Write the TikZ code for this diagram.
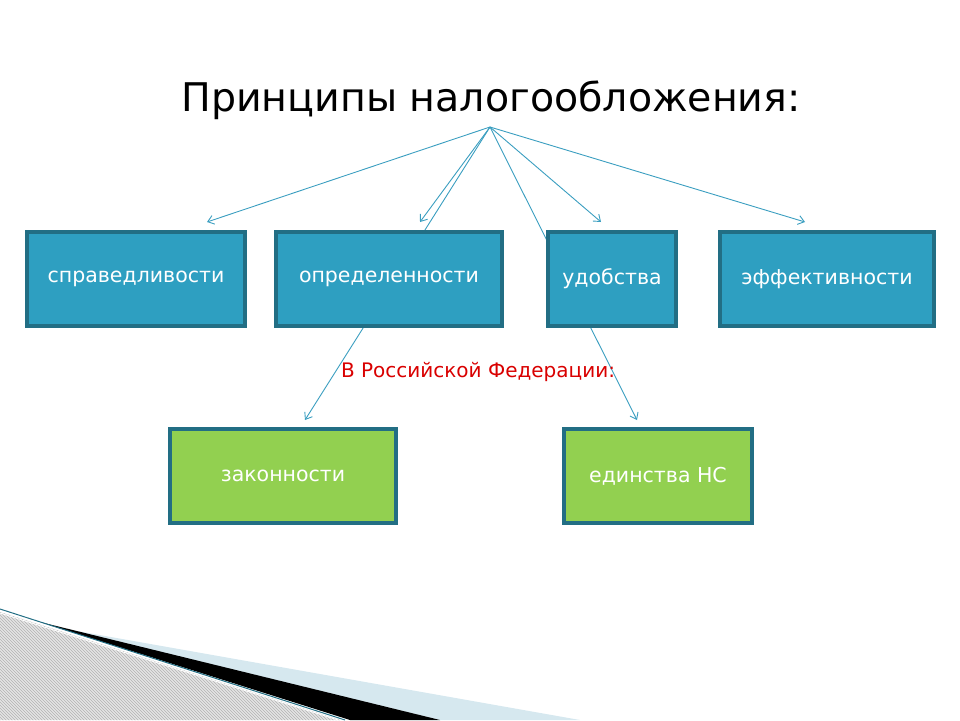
\documentclass[tikz,border=0pt]{standalone}
\usepackage{fontspec}
\setmainfont{DejaVu Sans}
\usetikzlibrary{patterns,arrows.meta}
\definecolor{tealf}{HTML}{2E9FC1}
\definecolor{bord}{HTML}{226E84}
\definecolor{grn}{HTML}{92D050}
\definecolor{arr}{HTML}{3A9EC0}
\definecolor{lb}{HTML}{D6E8EF}
\begin{document}
\begin{tikzpicture}[x=1pt,y=-1pt,
  box/.style={draw=bord,line width=4.5pt,fill=tealf,text=white,font=\fontsize{20.5}{24}\selectfont,inner sep=0},
  gbox/.style={box,fill=grn},
  ar/.style={draw=arr,line width=0.9pt,-{Straight Barb[length=6pt,width=9pt]}}]
\useasboundingbox (0,0) rectangle (960,720);
% decoration
\fill[lb] (60,628) -- (580,720) -- (440,720) -- cycle;
\fill[black] (40,622) -- (440,720) -- (350,720) -- cycle;
\fill[gray!20] (0,612) -- (340,720) -- (0,720) -- cycle;
\fill[pattern=north west lines,pattern color=gray!60] (0,612) -- (340,720) -- (0,720) -- cycle;
\draw[bord,line width=1pt] (0,609) -- (345,720);
\draw[white,line width=0.8pt] (0,613) -- (338,720);
% title
\node (t) at (491,100) {\fontsize{39.5}{46}\selectfont Принципы налогообложения:};
\coordinate (o) at (490,127);
% long arrows behind boxes
\coordinate (e1) at (305,420);
\coordinate (e2) at (637,420);
\draw[ar] (o) -- (e1);
\draw[ar] (o) -- (e2);
% boxes
\node[box,minimum width=218pt,minimum height=94pt] (b1) at (136,279) {справедливости};
\node[box,minimum width=226pt,minimum height=94pt] (b2) at (389,279) {определенности};
\node[box,minimum width=128pt,minimum height=94pt] (b3) at (612,279) {удобства};
\node[box,minimum width=214pt,minimum height=94pt] (b4) at (827,279) {эффективности};
\node[gbox,minimum width=226pt,minimum height=94pt] (g1) at (283,476) {законности};
\node[gbox,minimum width=188pt,minimum height=94pt] (g2) at (658,476) {единства НС};
\draw[ar] (o) -- (207,222);
\draw[ar] (o) -- (420,222);
\draw[ar] (o) -- (601,222);
\draw[ar] (o) -- (805,222);
\node[text=red!85!black,font=\fontsize{20}{24}\selectfont] (r) at (478,372) {В Российской Федерации:};
\end{tikzpicture}
\end{document}
